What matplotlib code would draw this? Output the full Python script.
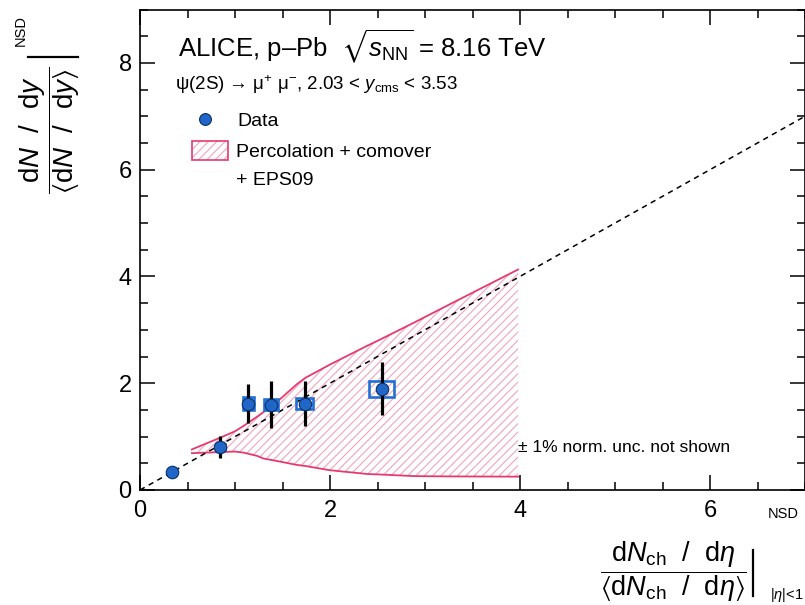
import matplotlib
matplotlib.use("Agg")
import matplotlib.pyplot as plt
from matplotlib.patches import Rectangle
from matplotlib.lines import Line2D

plt.rcParams['font.family'] = ['Liberation Sans', 'DejaVu Sans']
plt.rcParams['mathtext.fontset'] = 'custom'
plt.rcParams['mathtext.rm'] = 'Liberation Sans'
plt.rcParams['mathtext.it'] = 'Liberation Sans:italic'
plt.rcParams['mathtext.sf'] = 'Liberation Sans'
plt.rcParams['mathtext.fallback'] = 'stixsans'
plt.rcParams['hatch.linewidth'] = 0.8

# data points (psi(2S), normalised yield vs normalised multiplicity)
x_data = [0.34, 0.845, 1.14, 1.38, 1.735, 2.545]
y_data = [0.34, 0.81, 1.62, 1.60, 1.62, 1.90]
y_stat = [0.0, 0.21, 0.36, 0.44, 0.43, 0.49]
x_sys = [0.0, 0.045, 0.06, 0.07, 0.09, 0.13]
y_sys = [0.0, 0.056, 0.12, 0.10, 0.11, 0.15]

# model band: percolation + comover + EPS09
band_x = [0.546, 0.845, 1.0, 1.09, 1.23, 1.30, 1.48, 1.65, 1.74, 2.0, 2.39, 2.53, 2.89, 3.24, 3.98]
band_hi = [0.76, 0.98, 1.10, 1.20, 1.37, 1.46, 1.71, 1.98, 2.10, 2.35, 2.70, 2.82, 3.14, 3.46, 4.13]
band_lo = [0.69, 0.71, 0.72, 0.70, 0.64, 0.59, 0.53, 0.47, 0.45, 0.37, 0.30, 0.29, 0.26, 0.255, 0.25]

W, H = 805, 605
band_col = '#e63a6e'
hatch_col = '#f2a4bd'
blue = '#1f70d6'
dot = '#1f66c8'


def P(px, py):
    # pixel position -> figure fraction
    return px / W, 1 - py / H


fig = plt.figure(figsize=(W / 100, H / 100), dpi=100)
ax = fig.add_axes([140 / W, 1 - 490 / H, 665 / W, 480.5 / H])
ax.set_xlim(0, 7)
ax.set_ylim(0, 9)

# band
ax.fill_between(band_x, band_lo, band_hi, facecolor='none', edgecolor=hatch_col,
                linewidth=0, hatch='////', zorder=1)
ax.plot(band_x, band_hi, color=band_col, lw=1.3, zorder=2)
ax.plot(band_x, band_lo, color=band_col, lw=1.3, zorder=2)

# y = x reference
ax.axline((0, 0), slope=1, color='black', lw=1.1, ls=(0, (3.5, 3)), zorder=2)

# systematic boxes
for xi, yi, dx, dy in zip(x_data, y_data, x_sys, y_sys):
    if dx > 0:
        ax.add_patch(Rectangle((xi - dx, yi - dy), 2 * dx, 2 * dy, facecolor='none',
                               edgecolor=blue, lw=1.9, zorder=3))
ax.errorbar(x_data, y_data, yerr=y_stat, fmt='none', ecolor='black', elinewidth=2.3,
            capsize=0, zorder=4)
ax.plot(x_data, y_data, 'o', ms=9, mfc=dot, mec='#0b2f66', mew=0.8, zorder=5)

# ROOT-like axes
for s in ax.spines.values():
    s.set_linewidth(1.2)
ax.set_xticks([0, 2, 4, 6])
ax.set_yticks([0, 2, 4, 6, 8])
ax.set_xticks([i * 0.5 for i in range(15)], minor=True)
ax.set_yticks([i * 0.5 for i in range(19)], minor=True)
ax.tick_params(which='both', direction='in', top=True, right=True, width=1.1)
ax.tick_params(which='major', length=11, labelsize=17, pad=6)
ax.tick_params(which='minor', length=5.5)
ax.tick_params(axis='x', which='major', pad=7)

# header texts
fig.text(*P(178, 57), r'ALICE, p–Pb  $\sqrt{s_{\mathrm{NN}}}$ = 8.16 TeV', fontsize=18.5,
         va='baseline')
fig.text(*P(175, 90), r'ψ(2S) → μ$^{+}$ μ$^{-}$, 2.03 < $y_{\mathrm{cms}}$ < 3.53',
         fontsize=13.5, va='baseline')

# legend (drawn by hand, ROOT style)
fig.add_artist(Line2D([205 / W], [1 - 119 / H], marker='o', ms=8.5, mfc=dot, mec='#0b2f66',
                      mew=0.8, ls='none'))
fig.text(*P(237, 126), 'Data', fontsize=14, va='baseline')
x0, y0 = P(192, 160)
fig.add_artist(Rectangle((x0, y0), 36 / W, 19 / H, transform=fig.transFigure,
                         facecolor='white', edgecolor=hatch_col, hatch='////', lw=0))
fig.add_artist(Rectangle((x0, y0), 36 / W, 19 / H, transform=fig.transFigure,
                         facecolor='none', edgecolor=band_col, lw=1.2))
fig.text(*P(236, 157), 'Percolation + comover', fontsize=14, va='baseline')
fig.text(*P(236, 185), '+ EPS09', fontsize=14, va='baseline')

fig.text(*P(518, 452), '± 1% norm. unc. not shown', fontsize=12.6, va='baseline')

# y axis title
fig.text(*P(50, 130), r'$\dfrac{\mathrm{d}N\ \ /\ \ \mathrm{d}y}{\langle\mathrm{d}N\ \ /\ \ \mathrm{d}y\rangle}$',
         fontsize=20, rotation=90, ha='center', va='center')
fig.add_artist(Line2D([28 / W, 78 / W], [1 - 57 / H, 1 - 57 / H], color='black', lw=1.6))
fig.text(*P(21, 30), 'NSD', fontsize=10.5, rotation=90, ha='center', va='center')

# x axis title
fig.text(*P(673, 572), r'$\dfrac{\mathrm{d}N_{\mathrm{ch}}\ \ /\ \ \mathrm{d}\eta}{\langle\mathrm{d}N_{\mathrm{ch}}\ \ /\ \ \mathrm{d}\eta\rangle}$',
         fontsize=19.5, ha='center', va='center')
fig.add_artist(Line2D([753 / W, 753 / W], [1 - 550 / H, 1 - 596 / H], color='black', lw=1.6))
fig.text(*P(768, 518), 'NSD', fontsize=10.5, va='baseline')
fig.text(*P(770, 599), r'$|\eta|$<1', fontsize=10.5, va='baseline')

fig.savefig('out.png', dpi=100)
